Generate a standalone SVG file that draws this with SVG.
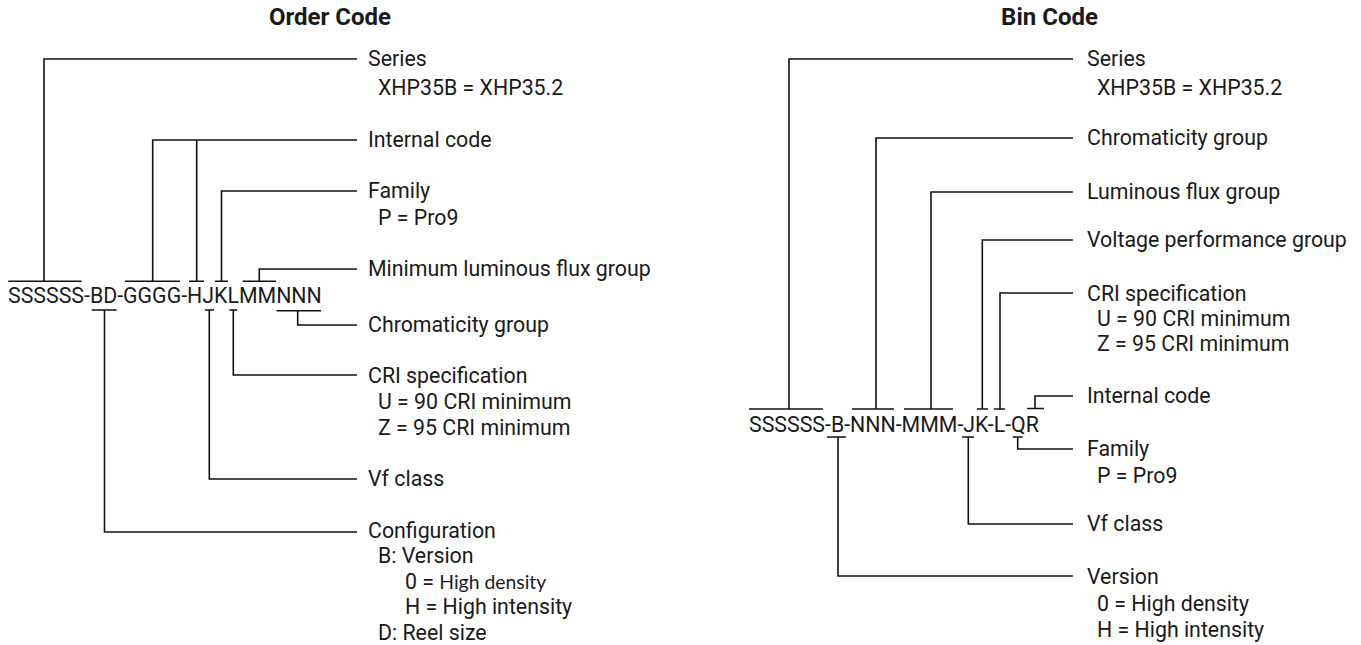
<svg xmlns="http://www.w3.org/2000/svg" width="1361" height="645" viewBox="0 0 1361 645">
<style>
.t{font-family:Roboto,"Liberation Sans",sans-serif;font-size:21.33px;fill:#1a1a1a}
.h{font-family:Roboto,"Liberation Sans",sans-serif;font-size:24px;font-weight:bold;fill:#1a1a1a;text-anchor:middle}
.c{font-family:Lato,"Liberation Sans",sans-serif;font-size:19.5px}
.ln{fill:none;stroke:#111;stroke-width:1.6}
</style>
<rect width="1361" height="645" fill="#fff"/>
<g id="connectors" class="ln">
<path d="M8.3,281.3H81.7M44,281.3V59H357"/>
<path d="M125,281.3H180M152.7,281.3V140H357M189,281.3H204M196.7,281.3V140"/>
<path d="M215,281.3H228M221.5,281.3V191H357"/>
<path d="M242.7,281.3H276M259.3,281.3V269H357"/>
<path d="M276.7,310.7H321M297.7,310.7V325H357"/>
<path d="M229.3,310H237.3M233.3,310V375H357"/>
<path d="M205,310H214M209.3,310V479H357"/>
<path d="M91.7,310H116.7M104.5,310V532H357"/>
<path d="M749,409H823M789,409V59H1073"/>
<path d="M852,409H894M876,409V138H1073"/>
<path d="M904,409H953M931,409V192H1073"/>
<path d="M977,409H988M982.3,409V240H1073"/>
<path d="M994,409H1005M1000,409V293H1073"/>
<path d="M1027,408.5H1044M1035,408.5V396H1073"/>
<path d="M1012.7,437H1022.7M1017.7,437V449H1073"/>
<path d="M962,437H974M968.3,437V524H1073"/>
<path d="M827,437H846M838,437V576H1073"/>
</g>
<g id="title-order"><text class="h" x="330" y="25">Order Code</text></g>
<g id="title-bin"><text class="h" x="1049.5" y="25">Bin Code</text></g>
<g id="code-order"><text class="t" x="8" y="303">SSSSSS-BD-GGGG-HJKLMMNNN</text></g>
<g id="code-bin"><text class="t" x="749" y="432">SSSSSS-B-NNN-MMM-JK-L-QR</text></g>
<g id="o-series"><text class="t" x="368" y="66">Series</text><text class="t" x="378" y="95">XHP35B = XHP35.2</text></g>
<g id="o-internal"><text class="t" x="368" y="147">Internal code</text></g>
<g id="o-family"><text class="t" x="368" y="198">Family</text><text class="t" x="378" y="225">P = Pro9</text></g>
<g id="o-flux"><text class="t" x="368" y="276">Minimum luminous flux group</text></g>
<g id="o-chroma"><text class="t" x="368" y="332">Chromaticity group</text></g>
<g id="o-cri"><text class="t" x="368" y="383">CRI specification</text><text class="t" x="378" y="409">U = 90 CRI minimum</text><text class="t" x="378" y="435">Z = 95 CRI minimum</text></g>
<g id="o-vf"><text class="t" x="368" y="486">Vf class</text></g>
<g id="o-config"><text class="t" x="368" y="538">Configuration</text><text class="t" x="378" y="563">B: Version</text><text class="t" x="405" y="589">0 = <tspan class="c" textLength="107" lengthAdjust="spacingAndGlyphs">High density</tspan></text><text class="t" x="405" y="614">H = High intensity</text><text class="t" x="378" y="640">D: Reel size</text></g>
<g id="b-series"><text class="t" x="1087" y="66">Series</text><text class="t" x="1097" y="95">XHP35B = XHP35.2</text></g>
<g id="b-chroma"><text class="t" x="1087" y="145">Chromaticity group</text></g>
<g id="b-flux"><text class="t" x="1087" y="199">Luminous flux group</text></g>
<g id="b-voltage"><text class="t" x="1087" y="247">Voltage performance group</text></g>
<g id="b-cri"><text class="t" x="1087" y="301">CRI specification</text><text class="t" x="1097" y="326">U = 90 CRI minimum</text><text class="t" x="1097" y="351">Z = 95 CRI minimum</text></g>
<g id="b-internal"><text class="t" x="1087" y="403">Internal code</text></g>
<g id="b-family"><text class="t" x="1087" y="456">Family</text><text class="t" x="1097" y="483">P = Pro9</text></g>
<g id="b-vf"><text class="t" x="1087" y="531">Vf class</text></g>
<g id="b-version"><text class="t" x="1087" y="584">Version</text><text class="t" x="1097" y="611">0 = High density</text><text class="t" x="1097" y="637">H = High intensity</text></g>
</svg>
